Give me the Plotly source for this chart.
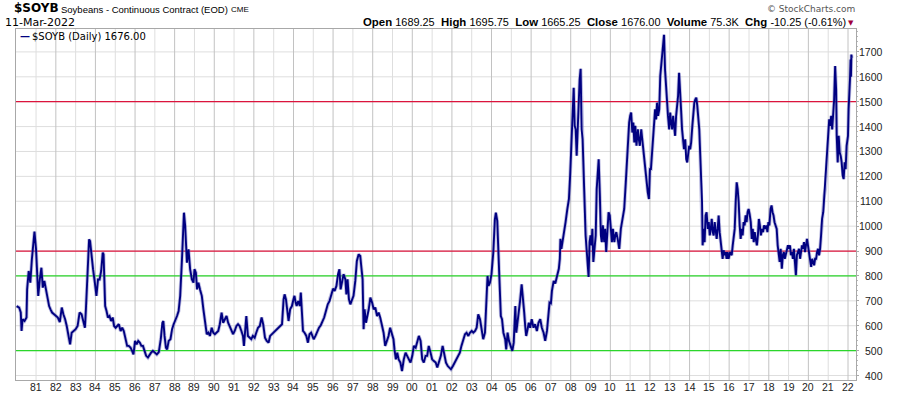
import plotly.graph_objects as go
from datetime import datetime

# ---------------- data ----------------
dec_years = [
 1980.02,1980.15,1980.23,1980.27,1980.32,1980.42,1980.52,1980.55,1980.63,1980.71,1980.79,1980.87,1980.92,
 1981.0,1981.06,1981.11,1981.19,1981.27,1981.34,1981.42,1981.5,1981.58,1981.66,1981.73,1981.81,1981.91,
 1982.0,1982.1,1982.2,1982.3,1982.38,1982.47,1982.55,1982.63,1982.72,1982.8,1982.9,
 1983.0,1983.1,1983.2,1983.3,1983.4,1983.47,1983.52,1983.58,1983.63,1983.68,1983.73,1983.8,1983.88,1983.97,
 1984.05,1984.13,1984.21,1984.29,1984.37,1984.41,1984.44,1984.49,1984.56,1984.63,1984.71,1984.79,1984.87,1984.94,
 1985.02,1985.1,1985.18,1985.27,1985.35,1985.43,1985.52,1985.6,1985.68,1985.77,1985.85,1985.92,
 1986.0,1986.08,1986.16,1986.24,1986.32,1986.4,1986.48,1986.56,1986.65,1986.73,1986.81,1986.9,
 1987.0,1987.1,1987.2,1987.3,1987.38,1987.43,1987.49,1987.56,1987.62,1987.7,1987.79,1987.87,1987.95,
 1988.03,1988.12,1988.2,1988.28,1988.37,1988.42,1988.47,1988.53,1988.62,1988.7,1988.78,1988.87,1988.95,
 1989.0,1989.07,1989.13,1989.2,1989.28,1989.37,1989.45,1989.53,1989.62,1989.7,1989.78,1989.87,1989.95,
 1990.03,1990.12,1990.2,1990.28,1990.37,1990.45,1990.53,1990.62,1990.7,1990.78,1990.87,1990.95,
 1991.03,1991.12,1991.2,1991.28,1991.37,1991.45,1991.5,1991.57,1991.62,1991.7,1991.78,1991.87,1991.95,
 1992.04,1992.12,1992.21,1992.3,1992.39,1992.47,1992.56,1992.65,1992.74,1992.82,1992.91,
 1993.0,1993.08,1993.17,1993.25,1993.33,1993.42,1993.5,1993.55,1993.62,1993.68,1993.75,1993.83,1993.92,
 1994.0,1994.05,1994.11,1994.16,1994.24,1994.32,1994.37,1994.44,1994.48,1994.56,1994.65,1994.73,1994.81,1994.89,1994.95,
 1995.02,1995.11,1995.2,1995.29,1995.38,1995.46,1995.55,1995.64,1995.73,1995.82,1995.91,
 1996.0,1996.08,1996.17,1996.25,1996.32,1996.38,1996.45,1996.53,1996.62,1996.67,1996.73,1996.8,1996.87,1996.95,
 1997.03,1997.12,1997.2,1997.29,1997.37,1997.42,1997.49,1997.54,1997.59,1997.66,1997.73,1997.8,1997.88,1997.97,
 1998.05,1998.13,1998.22,1998.3,1998.38,1998.47,1998.55,1998.63,1998.72,1998.8,1998.88,1998.97,
 1999.05,1999.1,1999.17,1999.24,1999.31,1999.4,1999.48,1999.57,1999.66,1999.74,1999.83,1999.91,
 2000.0,2000.08,2000.17,2000.25,2000.33,2000.42,2000.5,2000.58,2000.67,2000.75,2000.83,2000.92,
 2001.0,2001.09,2001.18,2001.26,2001.35,2001.44,2001.53,2001.61,2001.7,2001.79,2001.88,2001.95,
 2002.05,2002.14,2002.22,2002.31,2002.4,2002.48,2002.57,2002.66,2002.74,2002.83,2002.91,
 2003.0,2003.08,2003.17,2003.25,2003.33,2003.42,2003.5,2003.58,2003.67,2003.75,2003.8,2003.85,2003.92,
 2004.0,2004.09,2004.17,2004.22,2004.29,2004.34,2004.4,2004.47,2004.53,2004.6,2004.69,2004.74,2004.81,2004.88,2004.95,
 2005.05,2005.12,2005.2,2005.25,2005.32,2005.38,2005.45,2005.52,2005.58,2005.65,2005.7,2005.75,2005.82,2005.88,2005.95,
 2006.03,2006.12,2006.2,2006.29,2006.37,2006.46,2006.54,2006.63,2006.71,2006.8,2006.88,2006.93,
 2007.0,2007.05,2007.14,2007.22,2007.31,2007.4,2007.45,2007.48,2007.53,2007.59,2007.66,2007.74,2007.83,2007.91,2007.97,
 2008.0,2008.05,2008.1,2008.15,2008.2,2008.25,2008.3,2008.35,2008.4,2008.45,2008.5,2008.55,2008.6,2008.65,2008.7,2008.75,2008.8,2008.85,2008.9,2008.95,
 2009.0,2009.05,2009.09,2009.14,2009.19,2009.26,2009.31,2009.36,2009.41,2009.47,2009.52,2009.57,2009.62,2009.69,2009.74,2009.79,2009.86,2009.91,2009.97,
 2010.03,2010.08,2010.13,2010.2,2010.25,2010.3,2010.37,2010.45,2010.53,2010.62,2010.7,2010.78,2010.83,2010.9,2010.95,
 2011.0,2011.05,2011.11,2011.16,2011.21,2011.26,2011.32,2011.39,2011.44,2011.49,2011.56,2011.61,2011.67,2011.74,2011.79,2011.84,2011.89,2011.95,
 2012.0,2012.05,2012.1,2012.16,2012.21,2012.26,2012.31,2012.36,2012.41,2012.47,2012.52,2012.57,2012.62,2012.67,2012.71,2012.76,2012.81,2012.86,2012.91,2012.97,
 2013.02,2013.07,2013.12,2013.17,2013.22,2013.27,2013.32,2013.37,2013.42,2013.47,2013.52,2013.57,2013.62,2013.67,2013.72,2013.78,2013.83,2013.88,2013.93,2013.98,
 2014.03,2014.08,2014.14,2014.19,2014.24,2014.29,2014.34,2014.39,2014.44,2014.49,2014.54,2014.58,2014.63,2014.66,2014.71,2014.76,2014.81,2014.86,2014.92,2014.97,
 2015.02,2015.07,2015.12,2015.17,2015.22,2015.27,2015.32,2015.37,2015.42,2015.47,2015.52,2015.57,2015.62,2015.67,2015.72,2015.77,2015.82,2015.87,2015.92,2015.97,
 2016.05,2016.13,2016.18,2016.23,2016.28,2016.33,2016.38,2016.43,2016.48,2016.53,2016.58,2016.63,2016.68,2016.73,2016.78,2016.83,2016.88,2016.93,2016.98,
 2017.03,2017.09,2017.14,2017.19,2017.24,2017.29,2017.34,2017.4,2017.45,2017.5,2017.55,2017.6,2017.66,2017.71,2017.76,2017.83,2017.88,2017.93,2017.98,
 2018.03,2018.09,2018.14,2018.19,2018.24,2018.29,2018.34,2018.4,2018.45,2018.5,2018.55,2018.6,2018.66,2018.71,2018.76,2018.81,2018.86,2018.91,2018.97,
 2019.02,2019.07,2019.12,2019.17,2019.22,2019.27,2019.32,2019.37,2019.42,2019.47,2019.53,2019.58,2019.63,2019.68,2019.73,2019.78,2019.83,2019.88,2019.93,2019.98,
 2020.03,2020.08,2020.14,2020.19,2020.24,2020.29,2020.34,2020.39,2020.44,2020.49,2020.54,2020.59,2020.64,2020.69,2020.75,2020.8,2020.85,2020.9,2020.95,
 2021.0,2021.05,2021.1,2021.15,2021.2,2021.25,2021.3,2021.35,2021.4,2021.43,2021.48,2021.53,2021.58,2021.63,2021.68,2021.73,2021.78,2021.83,2021.88,2021.93,
 2022.0,2022.03,2022.07,2022.1,2022.13,2022.15,2022.17,2022.19,
]

prices = [
 679,673,653,579,626,619,633,746,820,773,867,954,978,
 907,813,720,786,833,753,780,746,706,679,666,653,646,
 639,633,615,673,646,626,599,559,525,572,579,
 586,599,653,646,612,592,666,773,907,947,940,880,827,773,
 720,786,786,820,894,887,766,679,659,633,639,619,633,599,
 592,599,606,579,592,579,552,519,519,512,499,485,
 539,525,539,532,519,519,499,479,472,485,492,499,
 492,485,494,546,612,619,559,512,505,539,546,586,606,
 619,639,659,720,867,947,1054,1001,853,907,827,786,773,
 827,813,746,773,746,720,666,612,566,572,559,592,572,
 566,572,579,606,653,612,626,639,612,599,579,566,
 579,599,606,599,579,559,519,572,639,559,552,546,559,
 552,572,592,599,633,606,552,539,532,559,566,
 572,579,586,592,599,606,706,726,706,659,619,666,679,
 706,720,693,679,699,679,733,659,579,572,559,532,566,572,559,
 546,559,579,592,602,615,633,659,686,699,726,
 749,740,760,807,827,746,773,807,786,726,786,706,686,706,
 720,780,860,887,880,840,786,586,666,612,639,666,713,693,
 666,673,639,653,633,599,572,519,539,559,592,572,
 546,505,465,492,465,452,418,465,492,479,465,452,
 479,519,512,532,559,539,465,452,479,479,519,492,
 465,458,452,432,452,479,519,492,452,438,432,425,
 438,452,465,479,492,519,546,566,572,559,572,
 579,572,579,592,646,626,579,546,572,720,800,760,773,
 807,894,1027,1054,1021,934,786,639,626,572,546,505,572,539,519,
 499,532,679,572,612,666,706,766,720,653,599,559,586,612,592,
 626,592,606,579,612,626,592,572,539,579,666,693,
 690,740,780,770,800,829,869,949,909,936,983,1016,1069,1109,1203,
 1256,1363,1429,1556,1403,1389,1283,1376,1536,1589,1632,1389,1349,1189,1056,963,909,856,796,936,
 963,923,989,856,909,963,1149,1216,1269,1123,963,936,1003,936,989,896,989,1056,1043,
 963,936,989,936,963,976,949,909,989,1043,1069,1176,1256,1349,1416,
 1443,1456,1376,1416,1336,1403,1323,1389,1349,1323,1389,1349,1283,1229,1203,1149,1136,1109,
 1229,1229,1283,1336,1416,1469,1429,1496,1443,1469,1603,1656,1696,1736,1769,1629,1549,1496,1443,1389,
 1456,1416,1389,1443,1389,1363,1443,1483,1523,1616,1509,1469,1389,1336,1309,1349,1269,1256,1309,1323,
 1309,1336,1403,1469,1496,1509,1516,1483,1443,1389,1283,1189,1096,923,989,936,1043,1056,989,1016,
 963,989,1029,976,963,1016,963,949,989,1043,976,936,896,869,903,883,896,869,896,869,
 896,883,923,963,989,1096,1176,1149,1096,1003,949,989,963,1016,1003,1043,1016,1056,1069,
 1049,1016,949,989,936,976,949,923,963,1029,1003,963,989,976,1003,989,1003,976,1016,
 1003,1069,1083,1056,1043,1016,1003,989,923,896,856,909,829,883,896,869,883,896,923,
 909,923,883,896,869,909,856,803,883,896,909,869,896,923,909,936,896,923,949,923,
 883,869,836,869,856,843,869,869,896,909,883,909,963,1029,1056,1123,1149,1216,1283,
 1389,1429,1403,1443,1389,1443,1509,1643,1549,1363,1256,1363,1296,1283,1256,1203,1189,1256,1229,1323,
 1363,1469,1523,1589,1669,1600,1689,1676,
]

x_tick_years = list(range(1981, 2023))
x_tick_labels = ["81","82","83","84","85","86","87","88","89","90","91","92","93","94",
                 "95","96","97","98","99","00","01","02","03","04","05","06","07","08",
                 "09","10","11","12","13","14","15","16","17","18","19","20","21","22"]
y_tick_values = [400,500,600,700,800,900,1000,1100,1200,1300,1400,1500,1600,1700]
y_tick_labels = ["400","500","600","700","800","900","1000","1100","1200","1300","1400","1500","1600","1700"]
ref_levels = [500, 800, 900, 1500]
ref_colors = ["#2bd62b", "#2bd62b", "#dc143c", "#dc143c"]


def to_date(y):
    yr = int(y)
    start = datetime(yr, 1, 1)
    end = datetime(yr + 1, 1, 1)
    return start + (end - start) * (y - yr)


dates = [to_date(y) for y in dec_years]

fig = go.Figure()
fig.add_trace(go.Scatter(x=dates, y=prices, mode="lines",
                         line=dict(color="rgba(110,110,190,0.45)", width=3.6),
                         hoverinfo="skip", showlegend=False))
fig.add_trace(go.Scatter(x=dates, y=prices, mode="lines",
                         line=dict(color="#000080", width=1.9),
                         name="$SOYB (Daily) 1676.00", showlegend=False))

shapes = []
# horizontal grid
for v in y_tick_values:
    shapes.append(dict(type="line", xref="paper", yref="y", x0=0, x1=1, y0=v, y1=v,
                       line=dict(color="#dedede", width=1), layer="below"))
# vertical grid: light on odd years, darker on even years
for yr in x_tick_years:
    d = datetime(yr, 1, 1)
    col = "#c2c2c2" if yr % 2 == 0 else "#dedede"
    shapes.append(dict(type="line", xref="x", yref="paper", x0=d, x1=d, y0=0, y1=1,
                       line=dict(color=col, width=1), layer="below"))
# reference levels
for lvl, col in zip(ref_levels, ref_colors):
    shapes.append(dict(type="line", xref="paper", yref="y", x0=0, x1=1, y0=lvl, y1=lvl,
                       line=dict(color=col, width=1.3), layer="below"))

L, R, T, B = 16, 44, 29, 16
W, H = 900, 396
pw, ph = W - L - R, H - T - B


def px(xp):
    return (xp - L) / pw


def py(yp):
    return (H - B - yp) / ph


nb = "\u00a0"


def val(s):
    return "<span style='font-size:10.9px'>" + s + "</span>"


right_hdr = (
    "<b>Open</b>" + nb + val("1689.25") + nb * 2 +
    "<b>High</b>" + nb + val("1695.75") + nb * 2 +
    "<b>Low</b>" + nb + val("1665.25") + nb * 2 +
    "<b>Close</b>" + nb + val("1676.00") + nb * 2 +
    "<b>Volume</b>" + nb + val("75.3K") + nb * 2 +
    "<b>Chg</b>" + nb + val("-10.25" + nb + "(-0.61%)")
)


def ann(text, xp, yp, xanchor, family, size, color="#000000"):
    return dict(text=text, xref="paper", yref="paper", x=px(xp), y=py(yp),
                xanchor=xanchor, yanchor="middle", showarrow=False,
                font=dict(family=family, size=size, color=color))


annotations = [
    ann("<b>$SOYB</b>", 12, 12.7 - 0.35 * 12, "left", "DejaVu Sans", 12),
    ann("Soybeans - Continuous Contract (EOD)", 58.5, 12.7 - 0.35 * 9.5, "left", "Arial", 9.5),
    ann("CME", 228.5, 12.7 - 0.35 * 8, "left", "Arial", 8),
    ann("11-Mar-2022", 2.5, 26.5 - 0.35 * 11, "left", "DejaVu Sans", 11),
    ann(right_hdr, 848, 26 - 0.35 * 11, "right", "Arial", 11.4),
    ann("\u25bc", 856, 23.5, "right", "DejaVu Sans", 7, "#a0003c"),
    ann("\u00a9 StockCharts.com", 857, 12.3 - 0.35 * 9, "right", "DejaVu Sans", 9, "#555555"),
    ann("<b>\u2014</b>", 17.5, 36.5, "left", "DejaVu Sans", 10, "#000080"),
    ann("$SOYB (Daily) 1676.00", 29.5, 40 - 0.35 * 10, "left", "DejaVu Sans", 10),
]
# right-aligned price labels on the right axis
for v, t in zip(y_tick_values, y_tick_labels):
    annotations.append(dict(text=t, xref="paper", yref="y", x=px(884.5), y=v,
                            xanchor="right", yanchor="middle", showarrow=False,
                            font=dict(family="Arial", size=10.5, color="#222222")))
# year labels under the plot, centred on each January gridline
for yr, t in zip(x_tick_years, x_tick_labels):
    annotations.append(dict(text=t, xref="x", yref="paper", x=datetime(yr, 1, 1), y=py(387),
                            xanchor="center", yanchor="middle", showarrow=False,
                            font=dict(family="Arial", size=10.5, color="#222222")))

fig.update_layout(
    width=W, height=H,
    margin=dict(l=L, r=R, t=T, b=B, pad=0, autoexpand=False),
    paper_bgcolor="white", plot_bgcolor="white",
    showlegend=False,
    shapes=shapes,
    annotations=annotations,
    xaxis=dict(
        type="date",
        automargin=False,
        range=[datetime(1979, 12, 28, 5), datetime(2022, 5, 28, 12)],
        showticklabels=False,
        showgrid=False,
        showline=True, linecolor="#a8a8a8", linewidth=1, mirror=True,
        ticks="", zeroline=False,
    ),
    yaxis=dict(
        side="right",
        automargin=False,
        range=[382, 1792],
        tickmode="array",
        tickvals=y_tick_values,
        showticklabels=False,
        showgrid=False,
        showline=True, linecolor="#a8a8a8", linewidth=1, mirror=True,
        ticks="outside", ticklen=2, tickcolor="#a8a8a8",
        minor=dict(dtick=20, tick0=400, ticks="outside", ticklen=1, tickcolor="#b8b8b8", showgrid=False),
        zeroline=False,
    ),
)

fig.write_html(
    "out.html",
    config={"displayModeBar": False, "staticPlot": True},
    post_script="document.body.style.margin='0px';document.body.style.padding='0px';"
                "document.body.style.overflow='hidden';",
)
